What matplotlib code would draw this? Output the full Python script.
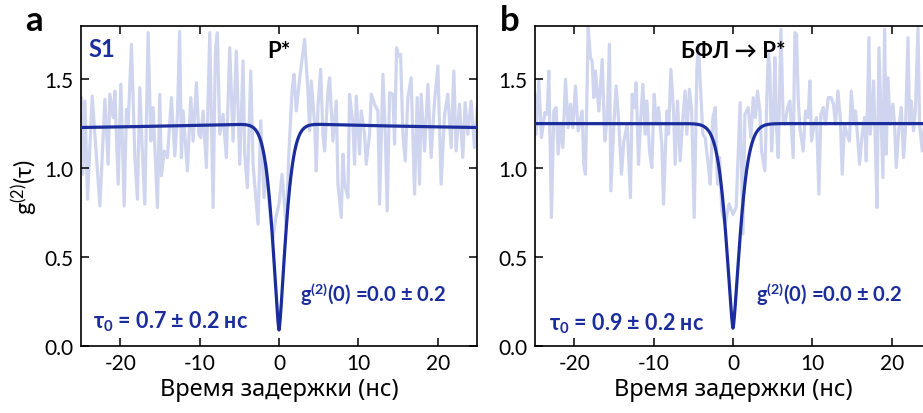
import numpy as np
import matplotlib
matplotlib.use("Agg")
import matplotlib.pyplot as plt
from matplotlib.ticker import FormatStrFormatter

FAM = 'Lato'
plt.rcParams['font.family'] = [FAM, 'DejaVu Sans']
plt.rcParams['mathtext.fontset'] = 'custom'
plt.rcParams['mathtext.rm'] = FAM
plt.rcParams['mathtext.it'] = FAM + ':italic'
plt.rcParams['mathtext.bf'] = FAM + ':bold'
plt.rcParams['axes.unicode_minus'] = False

# ---------------- data ----------------
tau_a = [-25.0, -24.9, -24.73, -24.47, -24.14, -23.55, -23.01, -22.58, -21.95, -21.54, -21.33,
         -20.91, -20.69, -20.28, -19.94, -19.52, -19.23, -19.02, -18.6, -18.17, -17.85, -17.55,
         -17.25, -16.92, -16.5, -16.16, -15.87, -15.33, -15.03, -14.82, -14.48, -14.07, -13.56,
         -13.14, -12.8, -12.53, -12.3, -12.09, -11.55, -11.12, -10.83, -10.41, -10.11, -9.86,
         -9.57, -9.15, -8.73, -8.31, -8.02, -7.77, -7.47, -7.05, -6.64, -6.21, -5.79, -5.38,
         -4.95, -4.53, -4.32, -3.99, -3.56, -3.27, -2.64, -2.31, -1.89, -1.6, -1.17, -0.76,
         -0.4, 0.0, 0.38, 0.92, 1.22, 1.64, 1.89, 2.18, 2.61, 3.23, 3.65, 3.86, 4.07, 4.49,
         4.7, 4.91, 5.25, 5.54, 5.75, 6.17, 6.38, 6.8, 7.22, 7.43, 7.85, 8.06, 8.27, 8.69,
         8.9, 9.32, 9.53, 9.74, 10.16, 10.37, 10.79, 11.0, 11.42, 11.63, 12.05, 12.47, 12.68,
         13.1, 13.39, 13.64, 13.94, 14.36, 14.57, 14.82, 15.08, 15.33, 15.62, 15.91, 16.25,
         16.66, 17.09, 17.42, 17.72, 17.92, 18.35, 18.77, 19.18, 19.61, 20.03, 20.44, 20.87,
         21.28, 21.7, 22.04, 22.33, 22.76, 23.17, 23.46, 23.8, 24.22, 24.64, 25.0]
g2_a = [1.30, 1.397, 0.966, 1.378, 0.826, 1.406, 1.060, 0.788, 1.388, 1.022, 1.416,
        1.285, 1.434, 0.910, 1.472, 0.788, 1.331, 1.247, 1.697, 1.060, 0.826, 1.453,
        1.116, 0.798, 1.762, 1.153, 1.341, 0.779, 1.416, 0.957, 1.097, 1.060, 1.397,
        1.069, 1.30, 1.77, 1.060, 1.322, 0.985, 1.397, 1.153, 1.481, 1.191, 1.172,
        1.322, 1.004, 1.762, 0.779, 1.659, 1.762, 1.191, 1.303, 1.060, 1.678, 1.153, 1.659,
        1.022, 1.603, 1.079, 0.891, 1.547, 1.022, 0.685, 1.266, 0.835, 1.022, 0.760, 0.610,
        0.72, 0.80, 0.966, 0.667, 1.060, 1.434, 1.528, 1.322, 1.509, 1.725, 1.434, 1.210, 1.491, 1.247,
        0.985, 1.341, 1.556, 1.191, 1.097, 1.434, 1.509, 1.153, 1.378, 0.910, 0.723, 1.079, 0.910, 0.835,
        1.416, 1.247, 1.022, 1.406, 1.079, 1.322, 1.191, 1.022, 1.191, 1.416, 1.360, 1.322, 0.798,
        1.528, 1.210, 0.760, 1.425, 1.416, 1.135, 1.678, 1.631, 1.640, 1.191, 1.041, 1.397,
        1.509, 0.854, 1.397, 0.910, 1.416, 1.097, 1.472, 1.060, 1.378, 1.575, 0.910, 1.303,
        1.416, 1.116, 1.547, 1.097, 1.360, 1.060, 1.369, 1.191, 1.378, 1.116, 1.341]

tau_b = [-25.0, -24.82, -24.48, -24.15, -23.72, -23.43, -23.22, -22.89, -22.59, -22.3, -22.04,
         -21.75, -21.45, -21.12, -20.78, -20.49, -20.19, -19.86, -19.52, -19.02, -18.81, -18.6,
         -18.26, -17.97, -17.76, -17.55, -17.34, -16.91, -16.49, -16.16, -15.86, -15.57, -15.4,
         -15.02, -14.73, -14.39, -14.06, -13.76, -13.34, -12.93, -12.71, -12.46, -12.21, -11.91,
         -11.7, -11.36, -11.07, -10.86, -10.53, -10.23, -9.94, -9.69, -9.39, -8.97, -8.76, -8.34,
         -8.13, -7.83, -7.5, -7.29, -7.0, -6.66, -6.32, -6.03, -5.82, -5.49, -5.21, -4.89, -4.55,
         -4.35, -4.14, -3.8, -3.51, -3.09, -2.88, -2.53, -2.24, -1.95, -1.7, -1.4, -0.98, -0.5,
         0.0, 0.4, 0.9, 1.25, 1.5, 1.92, 2.26, 2.55, 2.84, 3.09, 3.39, 3.6, 4.02, 4.44, 4.65,
         4.86, 5.07, 5.28, 5.49, 5.7, 6.04, 6.33, 6.54, 6.88, 7.17, 7.59, 7.8, 8.01, 8.22, 8.43,
         8.85, 9.14, 9.48, 9.69, 9.9, 10.24, 10.53, 10.83, 11.08, 11.37, 11.66, 12.0, 12.38,
         12.67, 12.92, 13.23, 13.52, 13.77, 14.06, 14.36, 14.69, 14.91, 15.2, 15.45, 15.75,
         15.95, 16.29, 16.58, 16.8, 17.14, 17.3, 17.55, 17.72, 17.97, 18.15, 18.4, 18.69, 18.9,
         19.11, 19.32, 19.53, 19.82, 20.16, 20.37, 20.58, 20.92, 21.21, 21.5, 21.75, 22.06,
         22.26, 22.47, 22.76, 23.01, 23.32, 23.52, 23.86, 24.2, 24.6, 25.0]
g2_b = [1.416, 1.191, 1.491, 1.172, 1.313, 1.303, 1.547, 0.723, 1.322, 1.341, 1.079,
        1.247, 1.116, 1.500, 1.228, 1.360, 1.228, 1.463, 1.210, 1.322, 1.022, 0.966,
        1.790, 1.622, 1.603, 1.397, 1.547, 1.322, 1.612, 1.153, 1.285, 1.697, 0.873,
        1.247, 1.463, 1.247, 0.966, 1.153, 1.247, 0.835, 1.416, 1.341, 1.481, 1.022,
        1.228, 1.472, 1.191, 1.378, 1.097, 1.004, 1.416, 1.247, 1.341, 1.135, 0.798, 1.322,
        1.191, 1.556, 1.322, 1.022, 1.378, 1.041, 1.285, 1.434, 1.191, 1.444, 1.322, 0.723, 1.566,
        1.697, 1.491, 1.191, 1.172, 1.004, 0.910, 1.285, 1.341, 0.910, 1.060, 0.760, 0.685, 0.80,
        0.74, 0.78, 1.369, 0.63, 1.303, 1.341, 1.172, 1.397, 1.285, 1.434, 1.322, 1.097, 0.985, 1.659, 1.547,
        1.097, 1.266, 1.622, 1.228, 1.060, 1.781, 1.266, 1.247, 1.341, 1.378, 1.060, 1.762, 1.753, 1.397, 1.228,
        1.097, 1.322, 1.285, 1.491, 1.153, 1.247, 1.285, 0.854, 1.303, 1.341, 1.247, 1.397, 1.397,
        1.360, 1.247, 1.434, 1.285, 0.966, 1.247, 1.191, 1.153, 1.434, 1.266, 1.322, 1.153,
        1.022, 1.191, 1.285, 1.041, 1.734, 1.191, 1.322, 1.491, 1.097, 0.779, 1.678, 1.247, 0.947,
        1.781, 1.079, 1.509, 1.247, 1.360, 1.247, 1.004, 1.228, 1.341, 1.060, 1.228, 1.734,
        1.247, 1.378, 1.210, 1.341, 1.790, 1.247, 1.097, 1.30, 1.15, 1.35]

# fit parameters: plateau, slow bunching amplitude/time, dip width/shape, g2 at zero
fit_a = dict(A=1.21, B=0.044, T=30.0, w=1.2, p=1.4, g0=0.09)
fit_b = dict(A=1.251, B=0.0, T=30.0, w=1.3, p=1.4, g0=0.10)

panel_letters = ['a', 'b']
titles = ['P*', 'БФЛ → P*']
tau0_labels = ['τ$_\\mathbf{0}$ = 0.7 ± 0.2 нс', 'τ$_\\mathbf{0}$ = 0.9 ± 0.2 нс']
g0_label = 'g$^\\mathbf{(2)}$(0) =0.0 ± 0.2'
xlabel = 'Время задержки (нс)'
xticks = [-20, -10, 0, 10, 20]
yticks = [0.0, 0.5, 1.0, 1.5]

DARK = '#1b2d9c'
LIGHT = '#cfd5ee'


def fit_curve(t, A, B, T, w, p, g0):
    C = A + B - g0
    return A + B * np.exp(-np.abs(t) / T) - C * np.exp(-(np.abs(t) / w) ** p)


W, H = 923, 414
fig = plt.figure(figsize=(W / 100, H / 100), dpi=100)
ax_w = 396.6 / W
ax_h = 320 / H
bottom = 1 - 347 / H
axes = [fig.add_axes([80.7 / W, bottom, ax_w, ax_h]),
        fig.add_axes([534.7 / W, bottom, ax_w, ax_h])]

t_fit = np.linspace(-25, 25, 4001)
datasets = [(tau_a, g2_a, fit_a), (tau_b, g2_b, fit_b)]
tau_pos = [(-23.5, 0.057), (-23.2, 0.052)]
g0_pos = [(2.6, 0.14), (2.9, 0.14)]

for i, ax in enumerate(axes):
    tt, gg, fp = datasets[i]
    ax.plot(tt, gg, color=LIGHT, lw=2.3, zorder=1)
    ax.plot(t_fit, fit_curve(t_fit, **fp), color=DARK, lw=2.3, zorder=3)
    ax.set_xlim(-25, 25)
    ax.set_ylim(0, 1.8)
    ax.set_xticks(xticks)
    ax.set_yticks(yticks)
    ax.yaxis.set_major_formatter(FormatStrFormatter('%.1f'))
    ax.tick_params(direction='in', top=True, right=True, length=6, width=1.1,
                   labelsize=15, pad=5)
    for s in ax.spines.values():
        s.set_linewidth(1.2)
    ax.set_xlabel(xlabel, fontsize=17, labelpad=3, family=['Noto Sans', 'DejaVu Sans'])
    ax.text(0.0, 0.955, titles[i], transform=ax.get_xaxis_transform(),
            ha='center', va='top', fontsize=16, fontweight='bold', color='black')
    ax.text(tau_pos[i][0], tau_pos[i][1], tau0_labels[i], transform=ax.get_xaxis_transform(),
            ha='left', va='baseline', fontsize=15.5, fontweight='bold', color=DARK)
    ax.text(g0_pos[i][0], g0_pos[i][1], g0_label, transform=ax.get_xaxis_transform(),
            ha='left', va='baseline', fontsize=14.6, fontweight='bold', color=DARK)

axes[0].set_ylabel('g$^{(2)}$(τ)', fontsize=17, labelpad=3)
axes[0].text(-24.0, 0.965, 'S1', transform=axes[0].get_xaxis_transform(),
             ha='left', va='top', fontsize=17, fontweight='bold', color=DARK)

fig.text(25 / W, 1 - 31 / H, 'a', fontsize=25, fontweight='bold', ha='left', va='baseline')
fig.text(500 / W, 1 - 31 / H, 'b', fontsize=25, fontweight='bold', ha='left', va='baseline')

fig.savefig('out.png', dpi=100)
